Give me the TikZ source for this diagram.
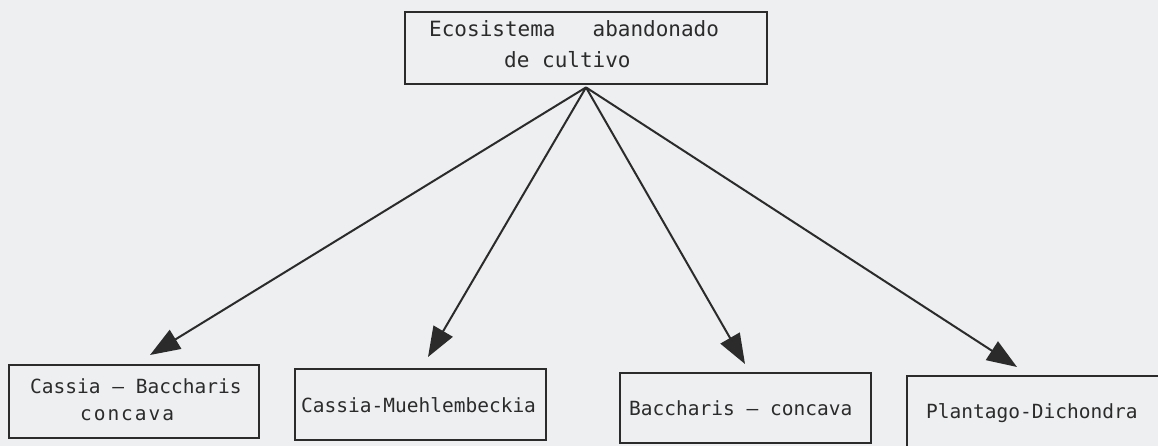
\documentclass[tikz,border=0pt]{standalone}
\usepackage{fontspec}
\usetikzlibrary{arrows.meta}
\newfontfamily\lettering{DejaVu Sans Mono}
\definecolor{paper}{HTML}{EDEFF1}
\definecolor{ink}{HTML}{2B2B2B}
\tikzset{
  box/.style={draw=ink, line width=2.8pt, rectangle, inner sep=0pt},
  lbl/.style={text=ink, inner sep=0pt, anchor=base west, font=\lettering\fontsize{19.5}{22}\selectfont},
  toplbl/.style={lbl, font=\lettering\fontsize{21}{24}\selectfont},
  widelbl/.style={lbl, font=\lettering\fontsize{19.5}{22}\selectfont\addfontfeatures{LetterSpace=10}},
  link/.style={draw=ink, line width=2pt, -{Triangle[length=30pt,width=22pt]}}
}
\begin{document}
\begin{tikzpicture}[x=1pt,y=-1pt]
\fill[paper] (0,0) rectangle (1158,446);
\useasboundingbox (0,0) rectangle (1158,446);
% boxes
\node[box, minimum width=362pt, minimum height=72pt] (top) at (586,48) {};
\node[box, minimum width=250pt, minimum height=73pt] (b1) at (134,401.5) {};
\node[box, minimum width=251pt, minimum height=71pt] (b2) at (420.5,404.5) {};
\node[box, minimum width=251pt, minimum height=70pt] (b3) at (745.5,408) {};
\node[box, minimum width=263pt, minimum height=74pt] (b4) at (1038.5,413) {};
% texts
\node[toplbl] (topa) at (429,37) {Ecosistema\hspace{37pt}abandonado};
\node[toplbl] (topb) at (504,68) {de cultivo};
\node[lbl] (b1a) at (30,393) {Cassia – Baccharis};
\node[widelbl] (b1b) at (80,420) {concava};
\node[lbl] (b2a) at (301,412) {Cassia-Muehlembeckia};
\node[lbl] (b3a) at (629,415) {Baccharis – concava};
\node[lbl] (b4a) at (926,418) {Plantago-Dichondra};
% connectors
\coordinate (t1) at (150,355);
\coordinate (t2) at (428,357);
\coordinate (t3) at (745,364);
\coordinate (t4) at (1017,367);
\foreach \t in {t1,t2,t3,t4} \draw[link] ([yshift=-2pt]top.south) -- (\t);
\end{tikzpicture}
\end{document}
